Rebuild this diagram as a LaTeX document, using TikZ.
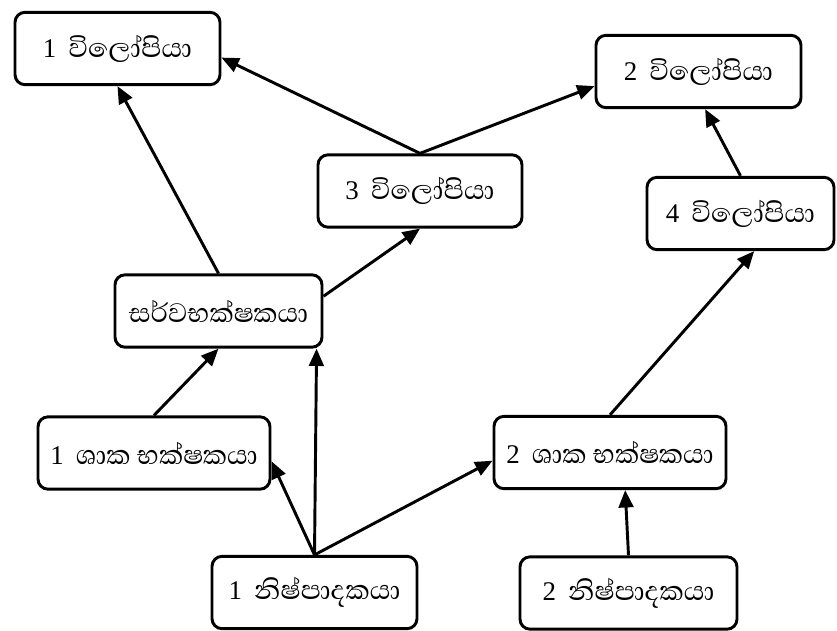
\documentclass[tikz,border=0pt]{standalone}
\usepackage{fontspec}
\setmainfont{Liberation Serif}
\newfontfamily\sinhfont[Script=Sinhala, Scale=1.27]{Abhaya Libre}
\usetikzlibrary{arrows.meta}

\begin{document}
\begin{tikzpicture}[x=0.03cm, y=-0.03cm,
        box/.style={draw, rounded corners=0.3cm, line width=2.5pt, inner sep=0pt,
                    minimum height=2.17cm, font=\fontsize{23}{27}\selectfont},
        link/.style={-{Triangle[length=0.52cm,width=0.44cm]}, line width=2.5pt}]
                \useasboundingbox (0, 0) rectangle (837, 630);

                % consumers at the top
                \node[box, minimum width=6.15cm] (pred1) at (117.5, 48.5) {1 \hspace{0.2em}{\sinhfont විලෝපියා}};
                \node[box, minimum width=6.15cm] (pred2) at (698.5, 71.5) {2 \hspace{0.2em}{\sinhfont විලෝපියා}};
                \node[box, minimum width=6.12cm] (pred3) at (420, 191) {3 \hspace{0.2em}{\sinhfont විලෝපියා}};
                \node[box, minimum width=5.61cm] (pred4) at (740.5, 213.5) {4 \hspace{0.2em}{\sinhfont විලෝපියා}};
                \node[box, minimum width=6.21cm] (omni) at (218.5, 311) {\sinhfont සර්වභක්ෂකයා};

                % herbivores and producers
                \node[box, minimum width=6.96cm] (herb1) at (154, 453) {1 \hspace{0.2em}{\sinhfont ශාක භක්ෂකයා}};
                \node[box, minimum width=6.96cm] (herb2) at (610, 452.5) {2 \hspace{0.2em}{\sinhfont ශාක භක්ෂකයා}};
                \node[box, minimum width=6.15cm] (prod1) at (314.5, 592.5) {1 \hspace{0.2em}{\sinhfont නිෂ්පාදකයා}};
                \node[box, minimum width=6.51cm] (prod2) at (628.5, 593) {2 \hspace{0.2em}{\sinhfont නිෂ්පාදකයා}};

                \draw[link] (pred3.north) -- (pred1.-5);
                \draw[link] (pred3.north) -- (pred2.188);
                \draw[link] (omni.north) -- (pred1.south);
                \draw[link] (omni.8) -- (pred3.south);
                \draw[link] (herb1.north) -- (omni.south);
                \draw[link] (prod1.north) -- (herb1.-4);
                \draw[link] (prod1.north) -- (omni.-21);
                \draw[link] (prod1.north) -- (herb2.184);
                \draw[link] (prod2.north) -- (herb2.-68);
                \draw[link] (herb2.north) -- (pred4.-70);
                \draw[link] (pred4.north) -- (pred2.-80);
            \end{tikzpicture}
\end{document}
